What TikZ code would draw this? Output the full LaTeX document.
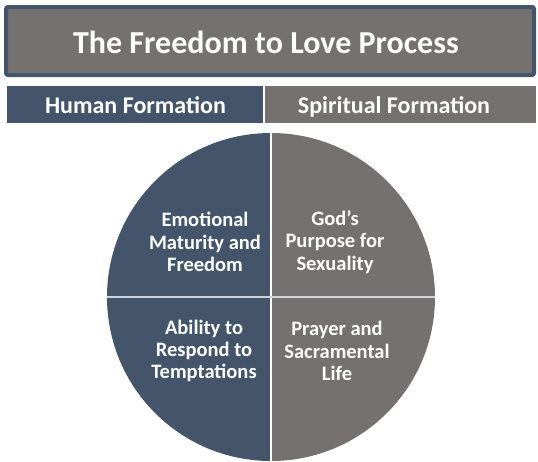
\documentclass[tikz,border=0pt]{standalone}
\usepackage{fontspec}
\setmainfont{Carlito}
\definecolor{navy}{HTML}{44546A}
\definecolor{stone}{HTML}{767171}
\definecolor{divline}{HTML}{D0D4D9}
\begin{document}
\begin{tikzpicture}[x=1pt,y=-1pt,
  wtext/.style={text=white,font=\bfseries,inner sep=0pt},
  quad/.style={wtext,align=center,font=\bfseries\fontsize{20.5}{22.3}\selectfont},
  header/.style={wtext,font=\bfseries\fontsize{24}{28}\selectfont,anchor=base}]
\useasboundingbox (0,0) rectangle (538,461);
\fill[white] (0,0) rectangle (538,461);
% title box
\node[draw=navy,line width=4pt,fill=stone,rounded corners=2pt,minimum width=528pt,minimum height=68pt,inner sep=0pt] (titlebox) at (270,41) {};
\node[wtext,font=\bfseries\fontsize{32}{36}\selectfont,anchor=base] (title) at (266,53) {The Freedom to Love Process};
% header bars
\node[fill=navy,minimum width=256pt,minimum height=37pt,inner sep=0pt] (hbar) at (135,104.5) {};
\node[fill=stone,minimum width=271pt,minimum height=37pt,inner sep=0pt] (sbar) at (400.5,104.5) {};
\node[header] (htext) at (135.5,113) {Human Formation};
\node[header] (stext) at (394,113) {Spiritual Formation};
% circle
\coordinate (c) at (271,297);
\coordinate (ctop) at (271,133);
\coordinate (cbot) at (271,461);
\coordinate (cleft) at (107,297);
\coordinate (cright) at (435,297);
\fill[navy] (c) -- (ctop) arc[start angle=270,end angle=90,radius=164] -- cycle;
\fill[stone] (c) -- (cbot) arc[start angle=90,end angle=-90,radius=164] -- cycle;
\draw[white,line width=1.5pt] (ctop) -- (cbot);
\draw[divline,line width=1.5pt] (cleft) -- (cright);
% quadrant texts
\node[quad] (q1) at (205,242) {Emotional\\Maturity and\\Freedom};
\node[quad] (q2) at (335,242) {God’s\\Purpose for\\Sexuality};
\node[quad] (q3) at (204,351) {Ability to\\Respond to\\Temptations};
\node[quad] (q4) at (337,351) {Prayer and\\Sacramental\\Life};
\end{tikzpicture}
\end{document}
